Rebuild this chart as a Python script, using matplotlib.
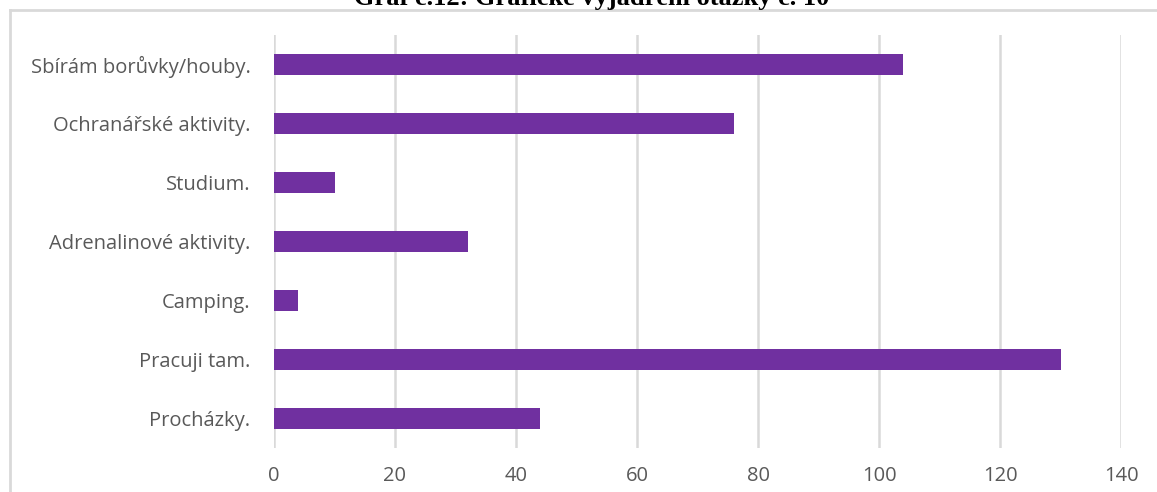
import matplotlib
matplotlib.use("Agg")
import matplotlib.pyplot as plt
from matplotlib.lines import Line2D

categories = ["Sbírám borůvky/houby.", "Ochranářské aktivity.", "Studium.",
              "Adrenalinové aktivity.", "Camping.", "Pracuji tam.", "Procházky."]
values = [104, 76, 10, 32, 4, 130, 44]
xticks = [0, 20, 40, 60, 80, 100, 120, 140]
title = "Graf č.12: Grafické vyjádření otázky č. 10"

W, H = 1157, 492
fig = plt.figure(figsize=(W / 100, H / 100), dpi=100)
ax = fig.add_axes([274 / W, 1 - 448 / H, (1121 - 274) / W, (448 - 35) / H])

ypos = list(range(len(categories)))[::-1]
ax.barh(ypos, values, height=0.37, color="#7030A0", zorder=3)
ax.set_xlim(0, 140)
ax.set_ylim(-0.5, len(categories) - 0.5)
ax.set_xticks(xticks)
ax.set_xticklabels([str(t) for t in xticks])
ax.set_yticks(ypos)
ax.set_yticklabels(categories)
ax.grid(axis="x", color="#D9D9D9", linewidth=1.8, zorder=0)
ax.grid(axis="y", visible=False)
for s in ax.spines.values():
    s.set_visible(False)
ax.tick_params(axis="both", length=0, colors="#595959", labelsize=14.5)
ax.tick_params(axis="y", pad=17)
ax.tick_params(axis="x", pad=13)
for lbl in ax.get_xticklabels() + ax.get_yticklabels():
    lbl.set_fontfamily("Open Sans")

# chart frame (only top and left edges are visible)
y_top = 1 - 10 / H
x_left = 10 / W
fig.add_artist(Line2D([x_left, 1.0], [y_top, y_top], transform=fig.transFigure,
                      color="#D9D9D9", linewidth=2))
fig.add_artist(Line2D([x_left, x_left], [0.0, y_top], transform=fig.transFigure,
                      color="#D9D9D9", linewidth=2))

fig.text(592 / W, 1 - 5 / H, title, ha="center", va="baseline",
         fontfamily="Liberation Serif", fontweight="bold", fontsize=19,
         color="black")

fig.savefig("out.png", dpi=100)
